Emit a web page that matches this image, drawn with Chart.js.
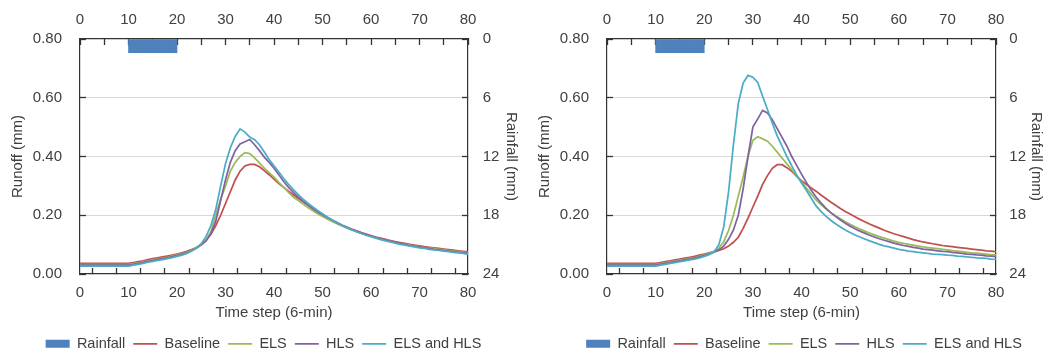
<!DOCTYPE html>
<html><head><meta charset="utf-8">
<script src="https://cdn.jsdelivr.net/npm/chart.js@4.4.1/dist/chart.umd.min.js"></script>
<style>
html,body{margin:0;padding:0;background:#fff;width:1047px;height:354px;overflow:hidden;position:relative;}
.box{position:absolute;top:0;height:361px;}
#b1{left:0;width:527px;}
#b2{left:535px;width:538px;}
</style></head><body>
<div class="box" id="b1"><canvas id="c1"></canvas></div>
<div class="box" id="b2"><canvas id="c2"></canvas></div>
<script>
// ---- data ----
const timeSteps = Array.from({length: 81}, (_, i) => i);   // time step (6-min), 0..80
const rainSteps = [11, 12, 13, 14, 15, 16, 17, 18, 19, 20]; // rainfall during steps 10-20
const rainfall  = [1.4, 1.4, 1.4, 1.4, 1.4, 1.4, 1.4, 1.4, 1.4, 1.4]; // mm
const xTickLabels = [0, 10, 20, 30, 40, 50, 60, 70, 80];
const seriesNames = ['Baseline', 'ELS', 'HLS', 'ELS and HLS'];

// left panel
const leftBaseline = [0.036,0.036,0.036,0.036,0.036,0.036,0.036,0.036,0.036,0.036,0.036,
 0.039,0.042,0.045,0.049,0.052,0.055,0.058,0.061,0.064,0.068,
 0.072,0.077,0.083,0.09,0.1,0.115,0.135,0.165,0.2,0.24,
 0.28,0.32,0.35,0.368,0.373,0.373,0.365,0.352,0.338,0.323,
 0.308,0.295,0.282,0.27,0.258,0.246,0.234,0.222,0.211,0.201,
 0.192,0.183,0.175,0.167,0.16,0.153,0.147,0.141,0.136,0.131,
 0.126,0.122,0.118,0.114,0.11,0.107,0.104,0.101,0.098,0.096,
 0.093,0.091,0.089,0.087,0.085,0.083,0.081,0.079,0.077,0.075];
const leftELS = [0.032,0.032,0.032,0.032,0.032,0.032,0.032,0.032,0.032,0.032,0.032,
 0.035,0.038,0.041,0.045,0.048,0.051,0.054,0.057,0.061,0.065,
 0.069,0.074,0.081,0.09,0.1,0.115,0.145,0.2,0.255,0.3,
 0.35,0.38,0.4,0.413,0.41,0.395,0.378,0.36,0.345,0.33,
 0.312,0.295,0.278,0.262,0.25,0.238,0.226,0.215,0.205,0.196,
 0.187,0.179,0.171,0.164,0.157,0.15,0.144,0.138,0.133,0.128,
 0.123,0.119,0.115,0.111,0.107,0.104,0.101,0.098,0.095,0.093,
 0.09,0.088,0.086,0.084,0.082,0.08,0.078,0.076,0.074,0.072];
const leftHLS = [0.03,0.03,0.03,0.03,0.03,0.03,0.03,0.03,0.03,0.03,0.03,
 0.033,0.036,0.039,0.043,0.046,0.049,0.052,0.055,0.059,0.063,
 0.067,0.072,0.079,0.088,0.099,0.113,0.138,0.18,0.25,0.32,
 0.38,0.42,0.443,0.45,0.458,0.44,0.42,0.398,0.38,0.36,
 0.338,0.315,0.295,0.278,0.262,0.248,0.235,0.223,0.212,0.202,
 0.192,0.183,0.174,0.166,0.159,0.152,0.146,0.14,0.134,0.129,
 0.124,0.119,0.115,0.111,0.107,0.104,0.1,0.097,0.094,0.092,
 0.089,0.087,0.084,0.082,0.08,0.078,0.076,0.074,0.072,0.07];
const leftBoth = [0.027,0.027,0.027,0.027,0.027,0.027,0.027,0.027,0.027,0.027,0.027,
 0.03,0.033,0.036,0.04,0.043,0.046,0.049,0.052,0.056,0.06,
 0.064,0.07,0.078,0.088,0.103,0.128,0.165,0.22,0.3,0.375,
 0.43,0.468,0.494,0.483,0.466,0.457,0.44,0.415,0.39,0.368,
 0.347,0.325,0.305,0.287,0.27,0.255,0.241,0.228,0.216,0.205,
 0.194,0.184,0.175,0.166,0.158,0.151,0.144,0.138,0.132,0.127,
 0.122,0.117,0.113,0.109,0.105,0.101,0.098,0.095,0.092,0.089,
 0.087,0.084,0.082,0.08,0.078,0.076,0.074,0.072,0.07,0.067];

// right panel
const rightBaseline = [0.036,0.036,0.036,0.036,0.036,0.036,0.036,0.036,0.036,0.036,0.036,
 0.039,0.042,0.045,0.048,0.051,0.054,0.057,0.06,0.064,0.068,
 0.072,0.076,0.08,0.086,0.095,0.108,0.125,0.155,0.19,0.228,
 0.265,0.305,0.335,0.36,0.372,0.372,0.362,0.35,0.332,0.318,
 0.305,0.293,0.282,0.269,0.257,0.245,0.234,0.223,0.213,0.204,
 0.195,0.186,0.178,0.17,0.163,0.156,0.149,0.143,0.137,0.132,
 0.127,0.122,0.117,0.113,0.109,0.106,0.103,0.1,0.097,0.095,
 0.093,0.091,0.089,0.087,0.085,0.083,0.081,0.079,0.078,0.076];
const rightELS = [0.032,0.032,0.032,0.032,0.032,0.032,0.032,0.032,0.032,0.032,0.032,
 0.035,0.038,0.041,0.044,0.047,0.05,0.053,0.056,0.06,0.065,
 0.07,0.077,0.088,0.11,0.148,0.2,0.265,0.33,0.4,0.455,
 0.467,0.46,0.452,0.435,0.415,0.395,0.375,0.355,0.335,0.314,
 0.293,0.272,0.252,0.236,0.222,0.209,0.198,0.188,0.178,0.169,
 0.161,0.153,0.146,0.139,0.133,0.127,0.122,0.117,0.112,0.108,
 0.104,0.101,0.098,0.095,0.092,0.09,0.088,0.086,0.084,0.082,
 0.08,0.078,0.076,0.074,0.072,0.071,0.069,0.068,0.066,0.065];
const rightHLS = [0.03,0.03,0.03,0.03,0.03,0.03,0.03,0.03,0.03,0.03,0.03,
 0.033,0.036,0.039,0.042,0.045,0.048,0.051,0.054,0.058,0.063,
 0.068,0.074,0.082,0.095,0.118,0.15,0.2,0.29,0.4,0.5,
 0.528,0.557,0.548,0.525,0.495,0.465,0.435,0.4,0.37,0.34,
 0.312,0.285,0.262,0.242,0.224,0.209,0.196,0.184,0.173,0.163,
 0.154,0.146,0.139,0.132,0.126,0.12,0.115,0.11,0.105,0.101,
 0.097,0.094,0.091,0.088,0.085,0.083,0.081,0.079,0.077,0.076,
 0.074,0.072,0.07,0.068,0.067,0.065,0.064,0.062,0.061,0.059];
const rightBoth = [0.027,0.027,0.027,0.027,0.027,0.027,0.027,0.027,0.027,0.027,0.027,
 0.03,0.033,0.036,0.039,0.042,0.045,0.048,0.051,0.055,0.06,
 0.066,0.075,0.1,0.16,0.28,0.44,0.58,0.65,0.676,0.67,
 0.652,0.605,0.56,0.513,0.47,0.435,0.4,0.368,0.337,0.31,
 0.285,0.258,0.232,0.213,0.197,0.183,0.171,0.16,0.15,0.141,
 0.133,0.126,0.119,0.113,0.107,0.101,0.096,0.092,0.088,0.084,
 0.081,0.078,0.076,0.074,0.072,0.07,0.068,0.067,0.066,0.064,
 0.063,0.061,0.06,0.058,0.057,0.055,0.054,0.053,0.051,0.05];

// ---- styling ----
const colors = ['#c0504d', '#9bbb59', '#8064a2', '#4bacc6'];
const rainColor = '#4f81bd';
const textColor = '#404040';
const axisColor = '#333333';
const gridColor = '#d9d9d9';
Chart.defaults.font.family = "'Liberation Sans', Arial, Helvetica, sans-serif";
Chart.defaults.font.size = 15;
Chart.defaults.color = textColor;

function makeChart(id, series, g) {
  const datasets = [{
    type: 'bar', label: 'Rainfall', xAxisID: 'x', yAxisID: 'y2',
    data: rainSteps.map((s, i) => ({x: s - 0.5, y: rainfall[i]})),
    backgroundColor: rainColor, borderWidth: 0, barPercentage: 1, categoryPercentage: 1,
    grouped: false, pointStyle: 'rect', order: 10
  }];
  series.forEach((arr, k) => {
    datasets.push({
      type: 'line', label: seriesNames[k], xAxisID: 'x', yAxisID: 'y',
      data: timeSteps.map((t, i) => ({x: t, y: arr[i]})),
      borderColor: colors[k], backgroundColor: colors[k], borderWidth: 1.75,
      pointRadius: 0, tension: 0, fill: false, pointStyle: 'line', order: 5 - k
    });
  });
  const xTickCb = v => (xTickLabels.includes(v) ? String(v) : '');
  const xAxisBase = {
    type: 'linear', min: 0, max: 80, offset: false,
    ticks: {stepSize: 5, autoSkip: false, maxRotation: 0, callback: xTickCb, color: textColor},
    grid: {display: true, drawOnChartArea: false, drawTicks: true, tickLength: -6, tickColor: axisColor, tickWidth: 1.3, lineWidth: 1},
    border: {display: true, color: axisColor, width: 1.2}
  };
  return new Chart(document.getElementById(id), {
    type: 'line',
    data: {datasets},
    options: {
      responsive: true, maintainAspectRatio: false, animation: false,
      layout: {padding: 0},
      plugins: {
        tooltip: {enabled: false},
        legend: {
          position: 'bottom',
          labels: {
            usePointStyle: true, pointStyleWidth: 24, boxHeight: 8, padding: 8,
            color: textColor, font: {size: 14.5},
            sort: (a, b) => a.datasetIndex - b.datasetIndex
          }
        }
      },
      scales: {
        x: Object.assign({}, xAxisBase, {
          position: 'bottom',
          ticks: Object.assign({}, xAxisBase.ticks, {padding: 15.5}),
          title: {display: true, text: 'Time step (6-min)', color: textColor, font: {size: 15}, padding: {top: 0, bottom: 7}},
          afterFit: s => { s.height = s.chart.height - g.bottom - (s.chart.legend ? s.chart.legend.height : 0); }
        }),
        x2: Object.assign({}, xAxisBase, {
          position: 'top',
          ticks: Object.assign({}, xAxisBase.ticks, {padding: 16}),
          afterFit: s => { s.height = g.top; }
        }),
        y: {
          type: 'linear', position: 'left', min: 0, max: 0.8,
          ticks: {stepSize: 0.2, padding: 24, color: textColor, callback: v => v.toFixed(2)},
          grid: {
            display: true, drawOnChartArea: true, drawTicks: true, tickLength: -6, tickColor: axisColor, tickWidth: 1.3,
            color: c => (c.tick && (Math.abs(c.tick.value) < 1e-6 || Math.abs(c.tick.value - 0.8) < 1e-6)) ? 'rgba(0,0,0,0)' : gridColor
          },
          border: {display: true, color: axisColor, width: 1.2},
          title: {display: true, text: 'Runoff (mm)', color: textColor, font: {size: 15}, padding: {top: g.leftTitlePad, bottom: 0}},
          afterFit: s => { s.width = g.leftW; }
        },
        y2: {
          type: 'linear', position: 'right', min: 0, max: 24, reverse: true,
          ticks: {stepSize: 6, padding: g.rightTickPad, color: textColor},
          grid: {display: true, drawOnChartArea: false, drawTicks: true, tickLength: -6, tickColor: axisColor, tickWidth: 1.3},
          border: {display: true, color: axisColor, width: 1.2},
          title: {display: true, text: 'Rainfall (mm)', color: textColor, font: {size: 15}, padding: {top: g.rightTitlePad, bottom: 0}},
          afterFit: s => { s.width = g.rightW; }
        }
      }
    }
  });
}

makeChart('c1', [leftBaseline, leftELS, leftHLS, leftBoth],
  {top: 39, bottom: 274, leftW: 80, rightW: 59, leftTitlePad: 8.5, rightTitlePad: 7.3, rightTickPad: 20.7});
makeChart('c2', [rightBaseline, rightELS, rightHLS, rightBoth],
  {top: 39, bottom: 274, leftW: 72, rightW: 77, leftTitlePad: 1, rightTitlePad: 28, rightTickPad: 19.3});
</script>
</body></html>
